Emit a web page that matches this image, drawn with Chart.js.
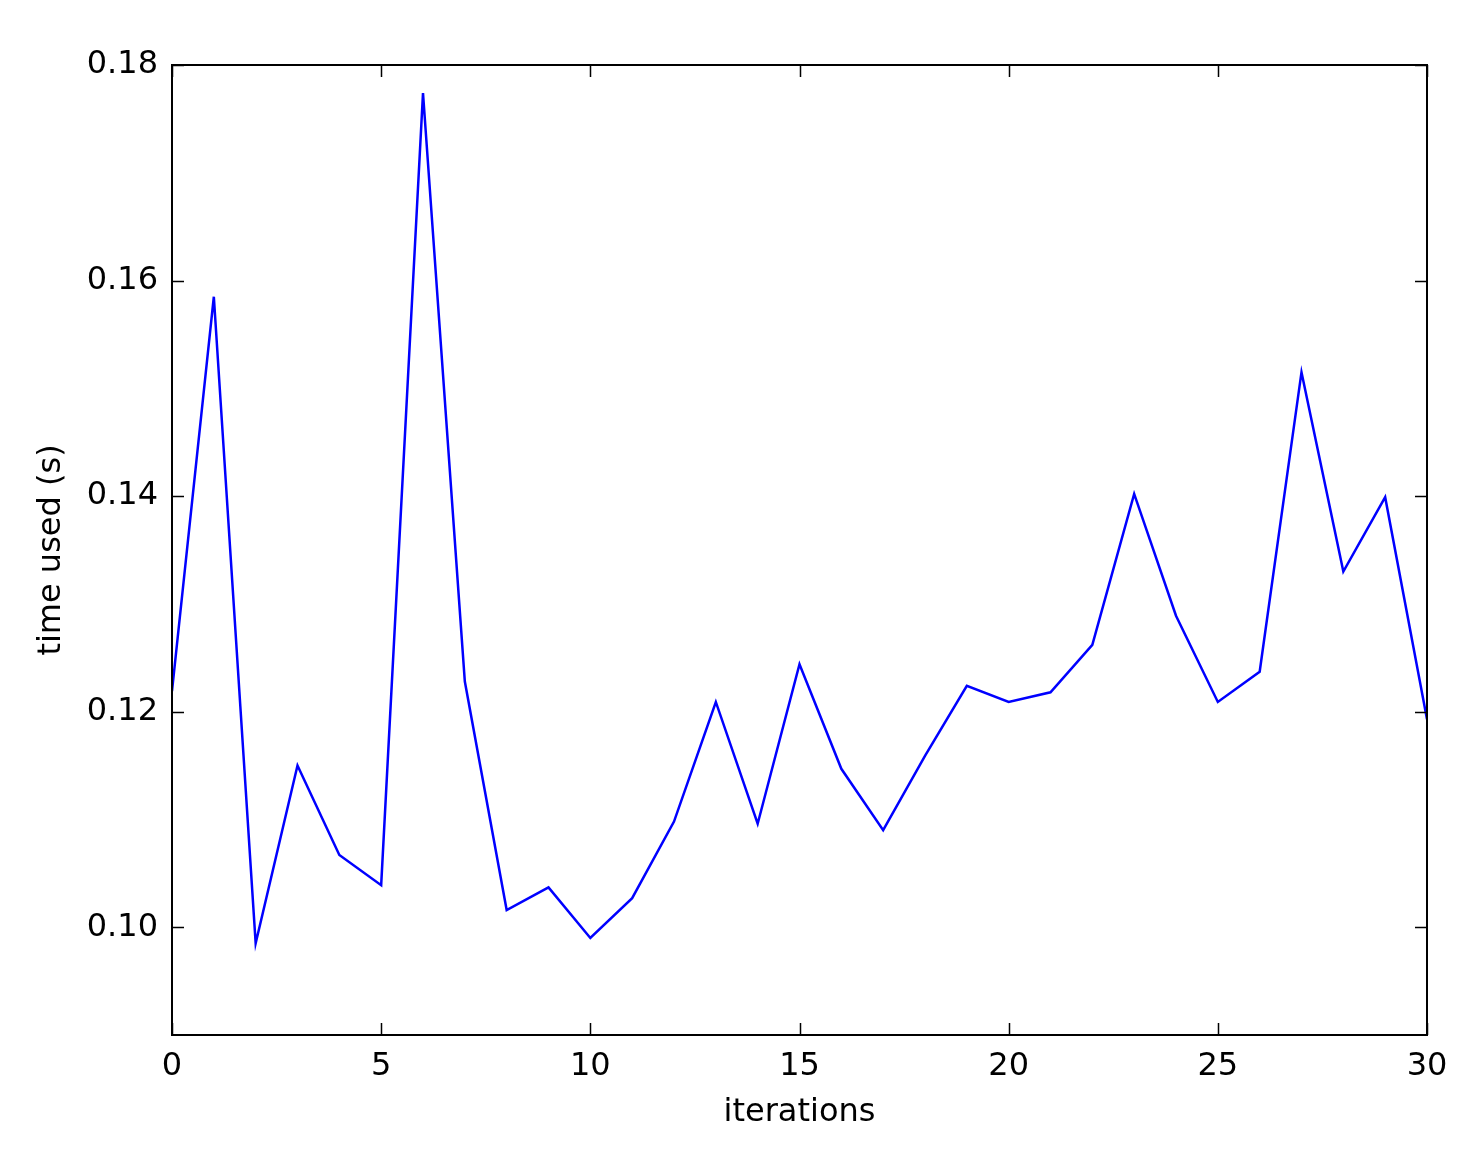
<!DOCTYPE html>
<html>
<head>
  <meta charset="UTF-8">
  <title>time used per iteration</title>
  <script src="https://cdn.jsdelivr.net/npm/chart.js"></script>
  <style>
    html, body {
      margin: 0;
      padding: 0;
      background: white;
    }
    #wrap {
      width: 1476px;
      height: 1152px;
    }
  </style>
</head>
<body>
  <div id="wrap"><canvas id="timeChart"></canvas></div>

  <script>
  // values
  const iterations = [0, 1, 2, 3, 4, 5, 6, 7, 8, 9, 10, 11, 12, 13, 14, 15,
                      16, 17, 18, 19, 20, 21, 22, 23, 24, 25, 26, 27, 28, 29, 30];
  const timeUsed = [0.1219, 0.1585, 0.0985, 0.1150, 0.1067, 0.1039, 0.1774, 0.1228,
                    0.1016, 0.1037, 0.0990, 0.1027, 0.1098, 0.1209, 0.1096, 0.1244,
                    0.1147, 0.1090, 0.1159, 0.1224, 0.1209, 0.1218, 0.1262, 0.1402,
                    0.1289, 0.1209, 0.1237, 0.1515, 0.1330, 0.1399, 0.1193];
  const xTicks = [0, 5, 10, 15, 20, 25, 30];
  const yTicks = [0.10, 0.12, 0.14, 0.16, 0.18];

  const tickFont = { family: 'DejaVu Sans', size: 32 };

  // matplotlib-style frame with inward ticks on all four sides
  const framePlugin = {
    id: 'frame',
    afterDraw(chart) {
      const ctx = chart.ctx;
      const a = chart.chartArea;
      const xs = chart.scales.x, ys = chart.scales.y;
      const len = 12;
      ctx.save();
      ctx.strokeStyle = '#000';
      ctx.lineWidth = 1.5;
      ctx.beginPath();
      xTicks.forEach(v => {
        const px = Math.round(xs.getPixelForValue(v)) + 0.5;
        ctx.moveTo(px, a.bottom); ctx.lineTo(px, a.bottom - len);
        ctx.moveTo(px, a.top); ctx.lineTo(px, a.top + len);
      });
      yTicks.forEach(v => {
        const py = Math.round(ys.getPixelForValue(v)) + 0.5;
        ctx.moveTo(a.left, py); ctx.lineTo(a.left + len, py);
        ctx.moveTo(a.right, py); ctx.lineTo(a.right - len, py);
      });
      ctx.stroke();
      ctx.lineWidth = 2;
      ctx.strokeRect(a.left, a.top, a.right - a.left, a.bottom - a.top);
      ctx.restore();
    }
  };

  new Chart(document.getElementById('timeChart'), {
    type: 'line',
    data: {
      datasets: [{
        data: iterations.map((x, i) => ({ x: x, y: timeUsed[i] })),
        borderColor: '#0000ff',
        borderWidth: 2.5,
        pointRadius: 0,
        tension: 0,
        fill: false
      }]
    },
    options: {
      responsive: true,
      maintainAspectRatio: false,
      animation: false,
      layout: { padding: { top: 65, right: 49, left: 0, bottom: 0 } },
      plugins: {
        legend: { display: false },
        tooltip: { enabled: false }
      },
      scales: {
        x: {
          type: 'linear',
          min: 0,
          max: 30,
          afterBuildTicks: s => { s.ticks = xTicks.map(v => ({ value: v })); },
          afterFit: s => { s.height = 117; },
          grid: { display: false, drawTicks: false },
          border: { display: false },
          ticks: { color: '#000', font: tickFont, padding: 12, maxRotation: 0 },
          title: {
            display: true,
            text: 'iterations',
            color: '#000',
            font: tickFont,
            padding: { top: 0, bottom: 20 }
          }
        },
        y: {
          min: 0.09,
          max: 0.18,
          afterBuildTicks: s => { s.ticks = yTicks.map(v => ({ value: v })); },
          afterFit: s => { s.width = 172; },
          grid: { display: false, drawTicks: false },
          border: { display: false },
          ticks: {
            color: '#000',
            font: tickFont,
            padding: 14,
            callback: v => v.toFixed(2)
          },
          title: {
            display: true,
            text: 'time used (s)',
            color: '#000',
            font: tickFont,
            padding: { top: 32, bottom: 0 }
          }
        }
      }
    },
    plugins: [framePlugin]
  });
  </script>
</body>
</html>
